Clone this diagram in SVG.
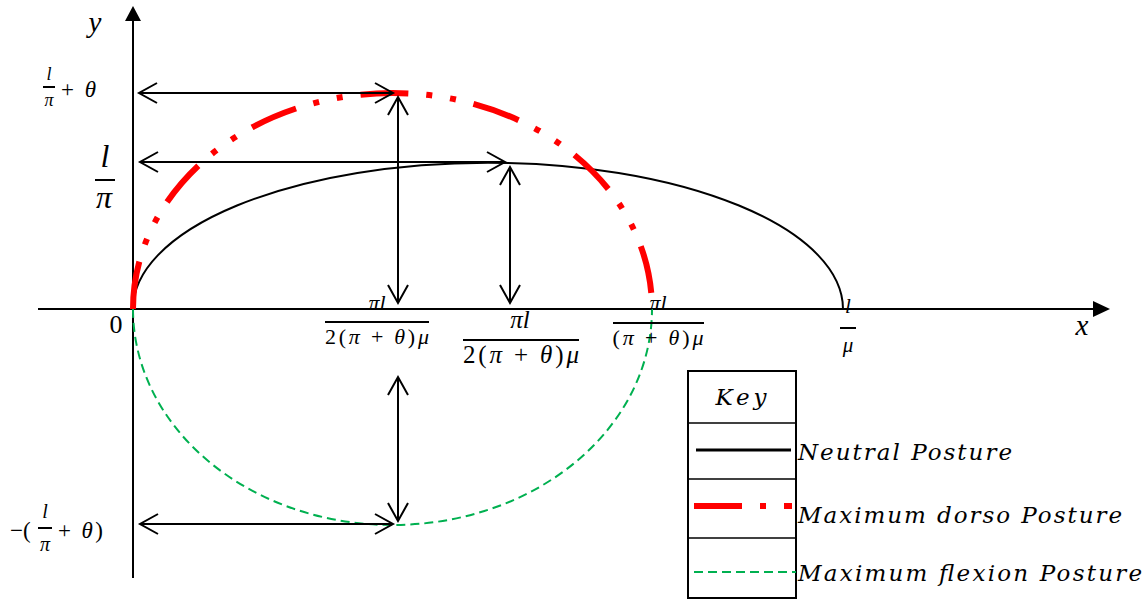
<svg xmlns="http://www.w3.org/2000/svg" width="1147" height="599" viewBox="0 0 1147 599">
<style>
text{font-family:"Liberation Serif","DejaVu Serif",serif;fill:#000}
.i{font-style:italic}
.k{font-family:"DejaVu Serif","Liberation Serif",serif;font-style:italic;font-size:23px}
.bar{stroke:#000;stroke-width:2}
.arr{stroke:#000;stroke-width:2;fill:none;marker-start:url(#oh);marker-end:url(#oh)}
.neutral{fill:none;stroke:#000;stroke-width:2}
.dorso{fill:none;stroke:#ff0000;stroke-width:6;stroke-dasharray:48 18 6 18 6 18}
.flex{fill:none;stroke:#00b050;stroke-width:2;stroke-dasharray:9 5}
</style>
<defs>
<marker id="oh" markerUnits="userSpaceOnUse" markerWidth="24" markerHeight="24" viewBox="-20 -12 24 24" refX="0" refY="0" orient="auto-start-reverse">
<path d="M-18,-10 L0,0 L-18,10" fill="none" stroke="#000" stroke-width="2"/>
</marker>
</defs>
<rect width="1147" height="599" fill="#fff"/>
<g id="axes">
<line x1="133" y1="18" x2="133" y2="578" stroke="#000" stroke-width="2"/>
<polygon points="133,6 125,21 141,21" fill="#000"/>
<line x1="38" y1="309" x2="1095" y2="309" stroke="#000" stroke-width="2"/>
<polygon points="1110,309 1093,301 1093,317" fill="#000"/>
<text x="95" y="32" font-size="29" class="i" text-anchor="middle">y</text>
<text x="1082" y="335" font-size="29" class="i" text-anchor="middle">x</text>
<text x="116" y="333" font-size="26" text-anchor="middle">0</text>
</g>
<g id="curves">
<path id="neutral-curve" class="neutral" d="M133,309 A354,146 0 0 1 843,309"/>
<path id="flexion-curve" class="flex" d="M133,309 A259.5,216 0 0 0 652,309"/>
<path id="dorso-curve" class="dorso" d="M133,309 A259.5,216 0 0 1 652,309"/>
</g>
<g id="labels">
<g id="label-top">
<text x="49" y="80" font-size="18" class="i" text-anchor="middle">l</text>
<line class="bar" x1="43" y1="87" x2="55" y2="87" stroke-width="1.5"/>
<text x="49" y="106" font-size="18" class="i" text-anchor="middle">π</text>
<text x="61" y="97" font-size="23" textLength="35" lengthAdjust="spacing">+ <tspan class="i">θ</tspan></text>
</g>
<g id="label-l-pi">
<text x="105" y="167" font-size="32" class="i" text-anchor="middle">l</text>
<line class="bar" x1="95" y1="180" x2="115" y2="180" stroke-width="3"/>
<text x="104" y="208" font-size="32" class="i" text-anchor="middle">π</text>
</g>
<g id="label-neg">
<text x="10" y="538" font-size="23">−(</text>
<text x="45" y="518" font-size="20" class="i" text-anchor="middle">l</text>
<line class="bar" x1="38" y1="528" x2="52" y2="528"/>
<text x="45" y="551" font-size="20" class="i" text-anchor="middle">π</text>
<text x="58" y="538" font-size="23" textLength="45" lengthAdjust="spacing">+ <tspan class="i">θ</tspan>)</text>
</g>
<g id="frac1">
<text x="377" y="310" font-size="22" class="i" text-anchor="middle">πl</text>
<line class="bar" x1="325" y1="322" x2="429" y2="322"/>
<text x="377" y="344" font-size="22" text-anchor="middle" textLength="104" lengthAdjust="spacing">2(<tspan class="i">π</tspan> + <tspan class="i">θ</tspan>)<tspan class="i">μ</tspan></text>
</g>
<g id="frac2">
<text x="520" y="328" font-size="25" class="i" text-anchor="middle">πl</text>
<line class="bar" x1="463" y1="340" x2="579" y2="340"/>
<text x="521" y="363" font-size="25" text-anchor="middle" textLength="116" lengthAdjust="spacing">2(<tspan class="i">π</tspan> + <tspan class="i">θ</tspan>)<tspan class="i">μ</tspan></text>
</g>
<g id="frac3">
<text x="658" y="310" font-size="22" class="i" text-anchor="middle">πl</text>
<line class="bar" x1="613" y1="323" x2="704" y2="323"/>
<text x="658" y="345" font-size="22" text-anchor="middle" textLength="91" lengthAdjust="spacing">(<tspan class="i">π</tspan> + <tspan class="i">θ</tspan>)<tspan class="i">μ</tspan></text>
</g>
<g id="frac-l-mu">
<text x="848" y="313" font-size="21" class="i" text-anchor="middle">l</text>
<line class="bar" x1="840" y1="328" x2="856" y2="328"/>
<text x="848" y="352" font-size="21" class="i" text-anchor="middle">μ</text>
</g>
</g>
<g id="connectors">
<line class="arr" x1="139" y1="93" x2="393" y2="93"/>
<line class="arr" x1="398" y1="97" x2="398" y2="303"/>
<line class="arr" x1="140" y1="162" x2="505" y2="162"/>
<line class="arr" x1="510" y1="167" x2="510" y2="303"/>
<line class="arr" x1="398" y1="377" x2="398" y2="521"/>
<line class="arr" x1="140" y1="524" x2="393" y2="524"/>
</g>
<g id="key">
<rect x="688" y="371" width="108" height="227" fill="none" stroke="#000" stroke-width="2"/>
<line x1="688" y1="423" x2="796" y2="423" stroke="#000" stroke-width="1.5"/>
<line x1="688" y1="479" x2="796" y2="479" stroke="#000" stroke-width="1.5"/>
<line x1="688" y1="538" x2="796" y2="538" stroke="#000" stroke-width="1.5"/>
<text x="741" y="405" class="k" text-anchor="middle" textLength="51" lengthAdjust="spacing">Key</text>
<line x1="696" y1="450" x2="791" y2="450" stroke="#000" stroke-width="3"/>
<line x1="694" y1="506" x2="796" y2="506" stroke="#ff0000" stroke-width="6" stroke-dasharray="48 18 6 18 8 18"/>
<line x1="694" y1="572" x2="796" y2="572" class="flex"/>
<text x="798" y="460" class="k" textLength="214" lengthAdjust="spacing">Neutral Posture</text>
<text x="798" y="523" class="k" textLength="324" lengthAdjust="spacing">Maximum dorso Posture</text>
<text x="798" y="581" class="k" textLength="344" lengthAdjust="spacing">Maximum flexion Posture</text>
</g>
</svg>
